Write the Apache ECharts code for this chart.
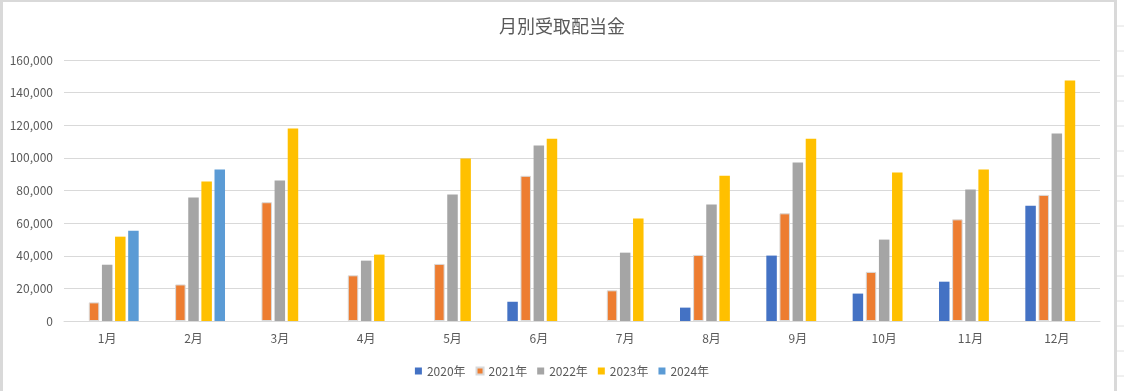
<!DOCTYPE html>
<html><head><meta charset="utf-8">
<script src="https://cdn.jsdelivr.net/npm/echarts@6/dist/echarts.min.js"></script>
<style>html,body{margin:0;padding:0;background:#fff}#c{width:1124px;height:391px}</style>
</head><body><div id="c"></div>
<script>
const categories = ['1月','2月','3月','4月','5月','6月','7月','8月','9月','10月','11月','12月'];
const seriesNames = ['2020年','2021年','2022年','2023年','2024年'];
const s2020 = [null, null, null, null, null, 11800, null, 8200, 40100, 16800, 24100, 70700];
const s2021 = [11400, 22400, 72800, 28000, 35000, 89000, 18800, 40500, 66000, 30100, 62300, 77300];
const s2022 = [34500, 75700, 86100, 37000, 77500, 107600, 41900, 71400, 97100, 49900, 80600, 114900];
const s2023 = [51700, 85500, 118000, 40700, 99600, 111800, 62800, 89100, 111800, 91000, 92800, 147400];
const s2024 = [55400, 92800, null, null, null, null, null, null, null, null, null, null];
const yTicks = [0, 20000, 40000, 60000, 80000, 100000, 120000, 140000, 160000];
const colors = ['#4472C4','#ED7D31','#A5A5A5','#FFC000','#5B9BD5'];
const dataSets = [s2020, s2021, s2022, s2023, s2024];

const font = '"Noto Sans CJK JP", "Noto Sans", sans-serif';
const chart = echarts.init(document.getElementById('c'));
const deco = [
  {type:'rect', shape:{x:0,y:0,width:1116,height:2}, style:{fill:'#d9d9d9'}, silent:true},
  {type:'rect', shape:{x:0,y:0,width:3,height:391}, style:{fill:'#d9d9d9'}, silent:true},
  {type:'rect', shape:{x:1114,y:0,width:3,height:391}, style:{fill:'#d9d9d9'}, silent:true}
];
for (let y = 26; y < 391; y += 25) {
  deco.push({type:'line', shape:{x1:1117,y1:y,x2:1124,y2:y}, style:{stroke:'#e0e0e0', lineWidth:1}, silent:true});
}
chart.setOption({
  animation:false,
  color: colors,
  title:{text:'月別受取配当金', left:'center', top:12, textStyle:{fontFamily:font, fontSize:18, fontWeight:'normal', color:'#595959'}},
  grid:{left:64, right:24, top:60, bottom:70},
  legend:{data:seriesNames, top:360, left:'center', itemWidth:7, itemHeight:7, itemGap:10, icon:'rect',
    textStyle:{fontFamily:font, fontSize:12, color:'#595959'}},
  xAxis:{type:'category', data:categories, axisTick:{show:false},
    axisLine:{lineStyle:{color:'#d9d9d9'}},
    axisLabel:{fontFamily:font, fontSize:12, color:'#595959', margin:11}},
  yAxis:{type:'value', min:yTicks[0], max:yTicks[yTicks.length-1], interval:yTicks[1]-yTicks[0],
    axisLine:{show:false}, axisTick:{show:false},
    splitLine:{lineStyle:{color:'#d9d9d9'}},
    axisLabel:{fontFamily:font, fontSize:12, color:'#595959', margin:11,
      formatter:v=>v.toLocaleString('en-US')}},
  series: seriesNames.map((n,i)=>({
    name:n, type:'bar', data:dataSets[i], barGap:'25%', barCategoryGap:'27%',
    itemStyle: i===1 ? {color:colors[i], borderColor:'#d9d9d9', borderWidth:1} : {color:colors[i]}
  })),
  graphic: deco
});
</script></body></html>
